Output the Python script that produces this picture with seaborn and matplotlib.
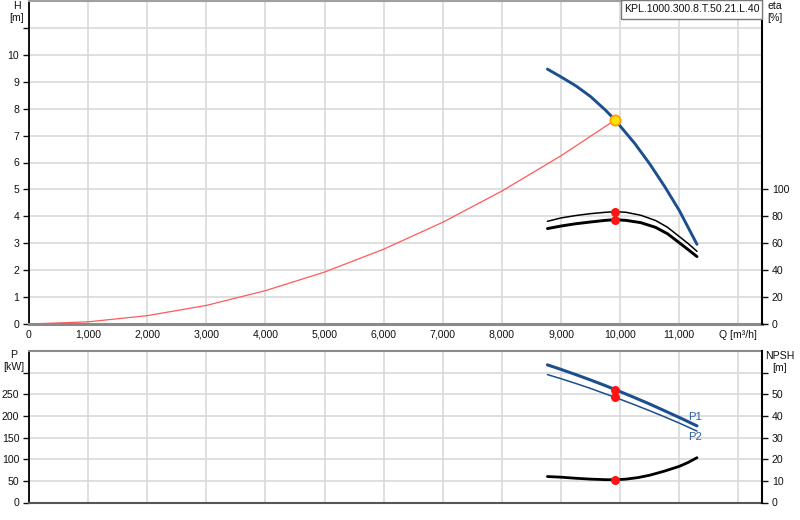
import matplotlib
matplotlib.use("Agg")
import matplotlib.pyplot as plt
from matplotlib.patches import Rectangle
import seaborn as sns

sns.set_style("white")
plt.rcParams['font.family'] = ['Liberation Sans', 'DejaVu Sans']

# ---------------- data ----------------
Q_H = [8770, 9000, 9250, 9500, 9750, 9915, 10250, 10500, 10750, 11000, 11300]
H_VALUES = [9.47, 9.18, 8.85, 8.45, 7.95, 7.58, 6.70, 5.95, 5.12, 4.22, 2.96]

Q_SYS = [0, 1000, 2000, 3000, 4000, 5000, 6000, 7000, 8000, 9000, 9915]
H_SYS = [0.0, 0.08, 0.31, 0.69, 1.24, 1.93, 2.78, 3.78, 4.94, 6.25, 7.58]

Q_ETA = [8770, 9000, 9250, 9500, 9750, 9915, 10100, 10350, 10600, 10800, 11000, 11150, 11300]
ETA_1 = [76.3, 78.8, 80.6, 82.0, 83.0, 83.5, 83.0, 80.8, 76.9, 71.9, 65.0, 59.8, 54.0]
ETA_2 = [70.9, 72.8, 74.5, 75.8, 77.0, 77.5, 77.0, 75.3, 71.8, 67.1, 60.4, 55.3, 50.1]

Q_P = [8770, 9000, 9250, 9500, 9750, 9915, 10250, 10500, 10750, 11000, 11300]
P1_VALUES = [318, 307.5, 295.5, 283, 270, 261, 242, 227.5, 212, 196.5, 177]
P2_VALUES = [295.5, 286, 275, 263.5, 251, 243, 225.5, 212, 198, 183.5, 165]

Q_NPSH = [8770, 9000, 9250, 9500, 9750, 9915, 10100, 10300, 10500, 10750, 11000, 11150, 11300]
NPSH_VALUES = [12.0, 11.7, 11.2, 10.8, 10.55, 10.5, 10.8, 11.5, 12.6, 14.5, 16.7, 18.5, 20.7]

Q_OP = 9915
H_OP = 7.58
ETA_OP = [83.5, 77.5]
P_OP = [261, 243]
NPSH_OP = 10.5

X_TICKS = list(range(0, 13000, 1000))
X_LABELS = ["0", "1,000", "2,000", "3,000", "4,000", "5,000", "6,000", "7,000",
            "8,000", "9,000", "10,000", "11,000", "Q [m³/h]"]
H_TICKS = list(range(0, 12))
ETA_TICKS = [0, 20, 40, 60, 80, 100]
P_TICKS = [0, 50, 100, 150, 200, 250, 300]
NPSH_TICKS = [0, 10, 20, 30, 40, 50, 60]
TITLE = "KPL.1000.300.8.T.50.21.L.40"

# ---------------- styling ----------------
BLUE = "#1b4f8e"
RED_DOT = "#ff1414"
SYS_RED = "#ff5a5a"
GRID = "#d9d9d9"
FS = 7.6
W, Hpx = 800, 520

fig = plt.figure(figsize=(8, 5.2), dpi=100)
fig.patch.set_facecolor("white")

ax1 = fig.add_axes([29 / W, 1 - 324 / Hpx, 733 / W, 323 / Hpx])
ax2 = ax1.twinx()
ax3 = fig.add_axes([29 / W, 1 - 502.5 / Hpx, 733 / W, 151.5 / Hpx])
ax4 = ax3.twinx()

XMAX = 12400
for ax in (ax1, ax3):
    ax.set_xlim(0, XMAX)
    ax.set_xticks(X_TICKS)
    ax.grid(True, color=GRID, lw=1.2)
    ax.set_axisbelow(True)

# --- top panel ---
ax1.set_ylim(0, 12)
ax2.set_ylim(0, 240)

sns.lineplot(x=Q_SYS, y=H_SYS, ax=ax1, color=SYS_RED, lw=0.9, legend=False, sort=False)
sns.lineplot(x=Q_H, y=H_VALUES, ax=ax1, color=BLUE, lw=2.1, legend=False, sort=False)
sns.lineplot(x=Q_ETA, y=ETA_1, ax=ax2, color="black", lw=1.1, legend=False, sort=False)
sns.lineplot(x=Q_ETA, y=ETA_2, ax=ax2, color="black", lw=2.1, legend=False, sort=False)
sns.scatterplot(x=[Q_OP, Q_OP], y=ETA_OP, ax=ax2, color=RED_DOT, s=42, edgecolor=RED_DOT,
                linewidth=0, zorder=5, legend=False)
sns.scatterplot(x=[Q_OP], y=[H_OP], ax=ax1, color="#ffe000", s=55, edgecolor="#ff9a00",
                linewidth=1.2, zorder=6, legend=False)

ax1.set_yticks(H_TICKS)
ax1.set_yticklabels([str(t) for t in H_TICKS[:-1]] + [""])
ax1.yaxis.get_major_ticks()[-1].tick1line.set_visible(False)
ax1.set_xticklabels(X_LABELS)
ax1.tick_params(axis="x", length=0, pad=4, labelsize=FS, colors="#111111")
ax1.tick_params(axis="y", direction="out", length=4, width=1, pad=3, labelsize=FS,
                left=True, colors="#111111")
ax2.set_yticks(ETA_TICKS)
ax2.tick_params(axis="y", direction="out", length=4, width=1, pad=3, labelsize=FS,
                right=True, colors="#111111")
ax2.grid(False)

for ax in (ax1, ax2):
    ax.set_xlabel("")
    ax.set_ylabel("")

ax1.spines["top"].set_color("#a0a0a0"); ax1.spines["top"].set_linewidth(1.5)
ax1.spines["bottom"].set_color("#8a8a8a"); ax1.spines["bottom"].set_linewidth(2.2)
ax1.spines["left"].set_color("black"); ax1.spines["left"].set_linewidth(1.3)
ax1.spines["right"].set_visible(False)
for s in ("top", "bottom", "left"):
    ax2.spines[s].set_visible(False)
ax2.spines["right"].set_color("black"); ax2.spines["right"].set_linewidth(1.5)

# --- bottom panel ---
ax3.set_ylim(0, 350)
ax4.set_ylim(0, 70)

sns.lineplot(x=Q_P, y=P1_VALUES, ax=ax3, color=BLUE, lw=2.2, legend=False, sort=False)
sns.lineplot(x=Q_P, y=P2_VALUES, ax=ax3, color=BLUE, lw=1.1, legend=False, sort=False)
sns.lineplot(x=Q_NPSH, y=NPSH_VALUES, ax=ax4, color="black", lw=2.0, legend=False, sort=False)
sns.scatterplot(x=[Q_OP, Q_OP], y=P_OP, ax=ax3, color=RED_DOT, s=42, edgecolor=RED_DOT,
                linewidth=0, zorder=5, legend=False)
sns.scatterplot(x=[Q_OP], y=[NPSH_OP], ax=ax4, color=RED_DOT, s=42, edgecolor=RED_DOT,
                linewidth=0, zorder=5, legend=False)

ax3.text(11265, 197, "P1", color="#2a5ea8", fontsize=FS + 0.5, ha="center", va="center")
ax3.text(11265, 151, "P2", color="#2a5ea8", fontsize=FS + 0.5, ha="center", va="center")

ax3.set_yticks(P_TICKS)
ax3.set_yticklabels([str(t) for t in P_TICKS[:-1]] + [""])
ax3.set_xticklabels([])
ax3.tick_params(axis="x", length=0)
ax3.tick_params(axis="y", direction="out", length=4, width=1, pad=3, labelsize=FS,
                left=True, colors="#111111")
ax4.set_yticks(NPSH_TICKS)
ax4.set_yticklabels([str(t) for t in NPSH_TICKS[:-1]] + [""])
ax4.tick_params(axis="y", direction="out", length=4, width=1, pad=3, labelsize=FS,
                right=True, colors="#111111")
ax4.grid(False)
for ax in (ax3, ax4):
    ax.set_xlabel("")
    ax.set_ylabel("")

ax3.spines["top"].set_color("#8a8a8a"); ax3.spines["top"].set_linewidth(1.5)
ax3.spines["bottom"].set_color("#555555"); ax3.spines["bottom"].set_linewidth(1.5)
ax3.spines["left"].set_color("black"); ax3.spines["left"].set_linewidth(1.3)
ax3.spines["right"].set_visible(False)
for s in ("top", "bottom", "left"):
    ax4.spines[s].set_visible(False)
ax4.spines["right"].set_color("black"); ax4.spines["right"].set_linewidth(1.5)

# --- axis unit labels ---
def ftxt(x, y, s, ha="center"):
    fig.text(x / W, 1 - y / Hpx, s, ha=ha, va="center", fontsize=FS, color="#111111")

ftxt(16.5, 6, "H")
ftxt(17, 18, "[m]")
ftxt(767, 6, "eta", ha="left")
ftxt(767, 18, "[%]", ha="left")
ftxt(13.5, 355, "P")
ftxt(14, 367, "[kW]")
ftxt(780, 356, "NPSH")
ftxt(780, 368, "[m]")

# --- title box ---
fig.add_artist(Rectangle((621 / W, 1 - 19 / Hpx), 141 / W, 19 / Hpx,
                         transform=fig.transFigure, facecolor="white",
                         edgecolor="#7a7a7a", lw=1.0, zorder=10))
fig.text(691.5 / W, 1 - 8.5 / Hpx, TITLE, ha="center", va="center", fontsize=7.6,
         color="#111111", zorder=11)

fig.savefig("out.png", dpi=100, facecolor="white")
